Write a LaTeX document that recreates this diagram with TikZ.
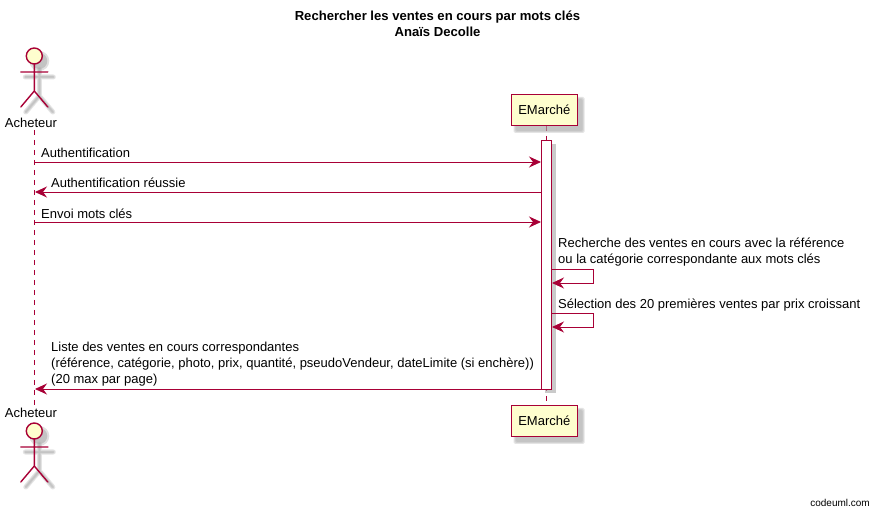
\documentclass[tikz,border=0pt]{standalone}
\usepackage{fontspec}
\setmainfont{Liberation Sans}
\usetikzlibrary{arrows.meta,calc}
\definecolor{pu}{HTML}{A80036}
\definecolor{pf}{HTML}{FEFECE}
\definecolor{shad}{HTML}{A8A8A8}
\tikzset{
  x=1pt,y=-1pt,
  msg/.style={draw=pu,line width=.9pt,-{Stealth[length=12pt,width=11pt,inset=4pt]}},
  life/.style={draw=pu,line width=.9pt,dash pattern=on 5pt off 5pt},
  lbl/.style={inner sep=0pt,anchor=base west,align=left,font=\fontsize{13}{16.2}\selectfont},
  part/.style={draw=pu,fill=pf,line width=1.4pt,minimum width=66pt,minimum height=31pt,inner sep=0pt,font=\fontsize{13}{15}\selectfont},
  partshadow/.style={fill=shad,opacity=.3,rounded corners=1.5pt,inner sep=0pt},
  act/.style={draw=pu,line width=1.4pt,line cap=round},
  actshadow/.style={draw=shad,opacity=.3,line cap=round},
  actorname/.style={inner sep=0pt,font=\fontsize{13}{15}\selectfont},
  actor/.pic={
    \foreach \w in {5,3,1.5}{
      \draw[actshadow,line width=\w pt] (5,13) -- (5,40) (-9,21) -- (19,21) (5,40) -- (-8.5,56) (5,40) -- (18.5,56);
    }
    \fill[shad,opacity=.35] (5,5) circle (10);
    \fill[shad,opacity=.5] (5,5) circle (8);
    \draw[act,fill=pf] (0,0) circle (8);
    \draw[act] (0,8) -- (0,35) (-13.5,16) -- (13.5,16) (0,35) -- (-13.5,51) (0,35) -- (13.5,51);
  }
}
\begin{document}
\begin{tikzpicture}
\useasboundingbox (0,0) rectangle (873,510);
\fill[white] (0,0) rectangle (873,510);
% title
\node[inner sep=0pt,align=center,font=\bfseries\fontsize{13.1}{16}\selectfont] (title) at (437.5,23.7) {Rechercher les ventes en cours par mots clés\\Anaïs Decolle};
% lifeline anchors
\coordinate (atop) at (34.5,130);
\coordinate (abot) at (34.5,405);
\coordinate (etop) at (546.5,126);
\coordinate (ebot) at (546.5,405);
\draw[life] (atop) -- (abot);
\draw[life] (etop) -- (ebot);
% participants
\foreach \g/\i in {5/1,3/2,1/3}{
  \node[partshadow,minimum width={66pt+\g pt},minimum height={31pt+\g pt}] (es1\i) at (549,115) {};
  \node[partshadow,minimum width={66pt+\g pt},minimum height={31pt+\g pt}] (es2\i) at (549,426) {};
}
\node[part] (e1) at (544.3,110) {EMarché};
\node[part] (e2) at (544.3,421) {EMarché};
% actors
\pic at (34.3,56) {actor};
\node[actorname] (a1) at (31,122.5) {Acheteur};
\node[actorname] (a2) at (31,413) {Acheteur};
\pic at (34.3,431) {actor};
% activation
\fill[shad,opacity=.6] (545,144) rectangle (555.5,393);
\node[draw=pu,fill=white,line width=1pt,minimum width=10pt,minimum height=249pt,inner sep=0pt] (bar) at (546.5,265) {};
% message coordinates
\coordinate (m1a) at (34.5,162); \coordinate (m1b) at (541,162);
\coordinate (m2a) at (541.5,192); \coordinate (m2b) at (35,192);
\coordinate (m3a) at (34.5,222); \coordinate (m3b) at (541,222);
\coordinate (s1a) at (551.5,269); \coordinate (s1c) at (552,283);
\coordinate (s2a) at (551.5,313); \coordinate (s2c) at (552,327);
\coordinate (m4a) at (541.5,389); \coordinate (m4b) at (35,389);
\draw[msg] (m1a) -- (m1b);
\draw[msg] (m2a) -- (m2b);
\draw[msg] (m3a) -- (m3b);
\draw[msg] (s1a) -- (593.5,269) -- (593.5,283) -- (s1c);
\draw[msg] (s2a) -- (593.5,313) -- (593.5,327) -- (s2c);
\draw[msg] (m4a) -- (m4b);
% labels
\node[lbl] (l1) at (41,157.7) {Authentification};
\node[lbl] (l2) at (51,187.7) {Authentification réussie};
\node[lbl] (l3) at (41,218.7) {Envoi mots clés};
\node[lbl,anchor=west] (l4) at (558,252) {Recherche des ventes en cours avec la référence\\ou la catégorie correspondante aux mots clés};
\node[lbl] (l5) at (558,308.7) {Sélection des 20 premières ventes par prix croissant};
\node[lbl,anchor=west] (l6) at (51,364) {Liste des ventes en cours correspondantes\\(référence, catégorie, photo, prix, quantité, pseudoVendeur, dateLimite (si enchère))\\(20 max par page)};
\node[inner sep=0pt,anchor=base east,font=\fontsize{10}{12}\selectfont] (cu) at (870,506) {codeuml.com};
\end{tikzpicture}
\end{document}
